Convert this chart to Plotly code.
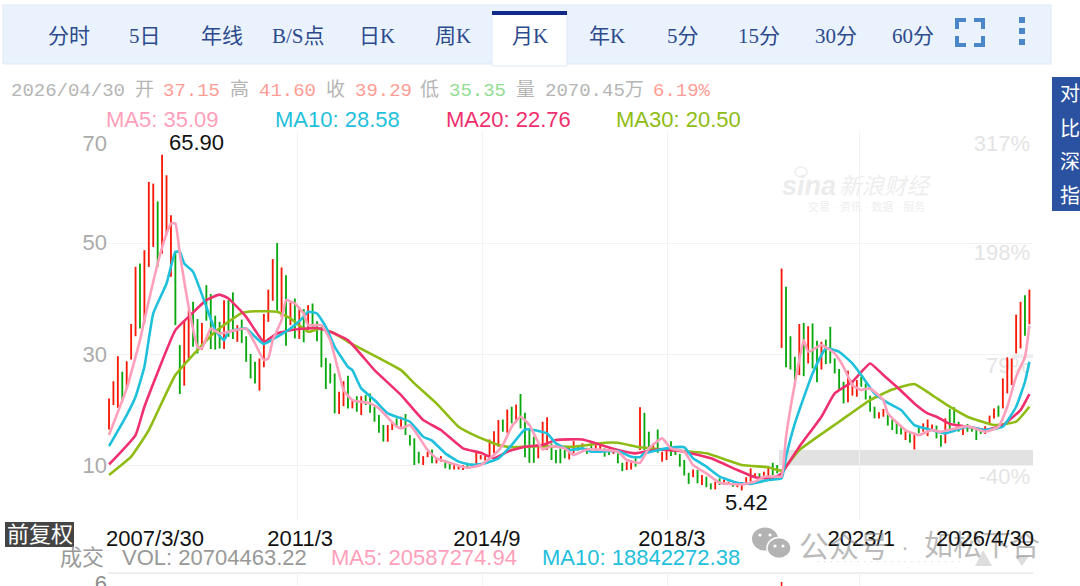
import plotly.graph_objects as go

BAR_HIGH = [22.0,25.1,29.6,26.8,28.7,35.4,45.7,46.3,48.7,61.0,60.7,57.5,65.9,62.2,55.0,48.4,31.6,36.1,37.9,39.4,
36.3,35.6,42.4,40.8,36.9,35.8,39.7,39.7,41.1,35.2,36.2,33.2,30.0,28.6,29.2,37.2,41.6,47.1,50.0,45.6,
44.2,39.3,40.0,38.4,38.1,38.8,39.1,35.9,34.9,29.3,28.3,26.5,23.2,25.1,26.1,21.8,22.4,22.4,22.6,22.9,
20.5,19.0,17.2,17.2,17.8,18.4,18.7,19.2,15.4,14.8,12.4,11.6,12.4,12.8,11.2,11.6,10.9,10.3,10.0,9.8,
10.0,10.0,10.3,12.2,11.8,11.6,14.6,16.1,18.1,18.2,20.0,20.5,20.9,22.8,19.4,16.6,15.1,13.3,17.8,18.6,
13.9,12.7,13.0,12.7,13.2,14.3,13.6,13.9,13.1,13.9,13.8,13.6,13.0,12.8,12.4,12.1,10.4,10.6,10.9,11.5,
20.4,19.4,16.0,13.9,16.4,12.4,13.0,14.3,13.0,12.0,10.9,8.6,9.2,9.1,8.2,7.9,6.7,7.0,7.6,7.4,
7.0,6.7,6.4,6.4,7.8,9.4,8.5,8.5,8.8,9.7,10.4,10.0,45.4,42.1,33.2,29.5,35.4,35.6,35.0,35.5,
32.4,32.2,32.6,34.9,29.2,27.3,25.0,27.0,25.3,25.3,25.9,24.7,22.5,20.5,19.5,20.1,19.3,18.2,17.6,17.0,
16.1,15.7,15.8,16.9,17.5,18.2,17.3,17.1,15.4,18.4,20.1,20.4,17.8,16.8,17.4,16.7,16.3,16.4,17.0,18.9,
20.2,20.7,25.6,29.4,29.2,37.1,39.4,40.6,41.6]
BAR_LOW = [16.4,20.8,20.3,21.4,23.8,29.0,33.2,34.6,35.5,45.7,49.3,45.7,48.1,51.7,43.9,35.2,22.8,24.3,29.2,31.3,
30.1,30.7,36.0,30.9,30.8,31.0,30.9,33.1,32.7,32.2,32.0,28.6,25.6,24.7,23.4,27.6,35.8,39.6,37.8,36.7,
31.5,35.2,32.8,32.7,32.1,34.3,34.6,32.3,27.6,23.7,24.7,19.3,19.2,20.6,20.2,20.2,19.6,19.0,20.8,19.4,
17.8,15.8,14.2,14.2,16.3,16.9,16.9,15.4,13.5,10.0,10.3,10.0,11.4,10.3,10.3,10.6,9.4,9.2,9.2,9.2,
9.1,9.4,9.5,10.0,11.0,10.8,11.2,12.1,13.3,16.0,15.8,17.5,17.6,16.6,11.4,10.4,10.4,11.2,13.2,12.7,
10.9,10.3,10.3,11.2,11.0,12.1,12.6,13.0,12.0,12.7,12.4,12.4,11.5,11.8,12.0,10.3,8.9,9.1,9.2,9.7,
12.7,12.7,12.6,12.8,12.2,10.6,10.9,11.6,11.8,9.7,8.1,6.6,7.8,6.7,6.4,6.0,5.6,5.6,6.4,6.4,
6.4,6.1,6.0,5.42,6.7,7.0,7.8,7.3,7.9,8.0,8.2,8.5,31.1,27.6,27.2,24.2,26.2,26.0,28.3,27.4,
24.9,27.2,28.2,28.3,26.5,23.5,21.1,21.3,22.5,22.3,24.1,21.8,19.6,18.4,18.4,18.7,17.1,16.3,15.6,15.5,
14.5,14.0,12.8,15.7,16.0,15.2,16.2,14.8,13.3,13.9,16.3,17.5,16.0,15.4,16.0,16.0,14.5,15.6,15.6,17.2,
18.4,18.7,20.2,22.9,24.4,30.1,31.0,33.3,35.35]
BAR_UP = list("RRRGRRRGRR" "RGRRRGGRRG" "GRGGGGRGGR" "GGGGRRRRGR" "GRGRGRGGGG"
              "GGRRGRGRGG" "GGGRRGRGGG" "GRRGRRGGRR" "RGGRRRRRRG" "RGRGGGGRRR"
              "GGGGRRGRGG" "RRGGRGGRRG" "RGGRGRRGGG" "GGRGRGGRGR" "RGRRRRRGRR"
              "GGRGGGRGRG" "GRGGGGGRRR" "GGGGRRGGGG" "RGRGRRRGGR" "GGGRGGGGRR"
              "RGRRRRRGR")

MA5_IDX = [0,4,7,8,11,13,14,15,16,18,20,21,23,25,27,31,33,35,36,37,39,40,42,44,45,48,50,52,53,55,59,61,65,66,68,70,72,74,77,81,84,87,89,91,93,95,98,100,103,105,108,112,115,117,120,122,125,127,130,132,135,138,143,146,148,151,152,153,155,157,158,161,164,166,168,170,172,175,176,180,183,186,188,194,198,201,203,205,207,208]
MA5_VAL = [15.4,23.8,32.5,36.1,46.3,51.7,53.5,53.5,48.1,38.5,31.3,31.0,34.6,33.7,34.0,34.6,31.9,28.9,29.2,32.5,36.1,39.7,39.1,37.3,35.2,35.2,32.5,26.5,23.5,21.7,21.1,20.2,16.9,16.6,17.2,15.1,12.7,11.2,10.4,9.5,10.0,11.8,13.6,16.9,18.7,17.2,12.8,13.4,13.0,11.8,12.8,12.7,12.4,10.9,10.4,13.0,14.8,13.0,12.4,10.0,8.5,6.8,6.5,7.0,7.9,7.9,7.9,15.1,24.7,32.5,30.4,31.6,30.1,27.7,24.4,23.5,23.8,21.7,19.3,16.3,15.4,16.3,16.0,17.0,16.0,16.9,20.5,25.9,29.5,35.09]
MA10_IDX = [0,4,6,8,10,13,15,16,17,19,22,24,26,27,31,33,35,38,41,44,45,47,49,51,54,55,57,60,63,68,71,73,76,79,82,85,88,91,94,96,99,101,104,107,109,115,118,120,121,126,130,132,135,138,142,145,149,152,153,155,159,162,165,168,170,173,176,179,182,186,189,194,198,202,205,207,208]
MA10_VAL = [13.4,19.0,22.3,27.7,37.3,42.7,48.4,48.4,46.3,44.8,38.5,34.3,32.5,34.0,34.6,33.1,31.8,33.1,34.6,36.7,37.6,37.3,34.9,31.3,27.7,27.1,23.8,21.7,19.3,17.8,15.1,14.4,12.1,10.6,10.0,10.3,11.2,13.6,16.4,16.3,15.7,13.9,12.7,13.0,12.4,12.5,11.5,11.4,12.1,13.0,13.2,11.2,9.7,7.9,6.8,6.6,7.3,7.6,11.5,17.5,26.5,31.0,30.4,28.3,26.2,22.9,21.2,19.9,17.2,16.3,15.7,16.9,16.3,16.9,20.5,25.0,28.58]
MA20_IDX = [0,6,8,15,18,22,25,27,31,35,38,42,47,50,54,60,66,71,75,80,84,87,90,94,98,101,107,110,115,119,124,130,136,142,146,150,152,156,161,164,168,172,175,178,182,185,187,190,194,198,202,206,208]
MA20_VAL = [10.1,15.4,20.5,34.3,36.7,39.7,40.7,40.0,36.7,32.2,33.7,34.4,34.7,34.0,32.5,27.1,22.6,18.1,16.3,13.0,12.2,11.2,12.4,13.3,13.6,14.5,14.6,13.9,12.7,12.1,12.8,12.4,11.2,9.1,7.8,7.6,8.5,13.3,18.7,22.9,25.0,28.3,26.2,24.1,21.1,19.3,18.7,17.4,16.9,16.3,17.2,19.9,22.76]
MA30_IDX = [0,5,9,15,20,24,30,33,38,41,45,48,51,54,66,69,74,79,83,88,91,97,105,112,115,120,127,135,143,149,152,156,165,172,177,182,186,190,194,200,205,208]
MA30_VAL = [8.2,11.5,16.3,26.2,30.7,34.0,37.4,37.7,37.6,36.4,34.0,34.6,33.7,32.2,27.1,24.7,21.1,16.9,15.2,13.6,13.2,13.4,13.3,14.0,14.0,13.2,12.7,12.1,10.0,9.6,9.0,12.7,17.8,21.7,23.6,24.6,22.6,20.5,18.7,17.2,17.8,20.5]

LEFT_TICKS = [68, 50.2, 30, 10]
LEFT_LABELS = ["70", "50", "30", "10"]
GRID_Y = [70, 50, 30, 10]
RIGHT_TICKS = [67.9, 48.3, 28.0, 8.0]
RIGHT_LABELS = ["317%", "198%", "79%", "-40%"]
GRID_X = [42.5, 84.5, 126.3, 169.7]
DATE_TICKS = [10.4, 43.2, 85.4, 127.2, 170.0]
DATE_LABELS = ["2007/3/30", "2011/3", "2014/9", "2018/3", "2023/1"]
LAST_DATE_TICK = 198.0
LAST_DATE_LABEL = "2026/4/30"
VOL_IDX = [152]
VOL_VAL = [6.1]

TABS = ["分时","5日","年线","B/S点","日K","周K","月K","年K","5分","15分","30分","60分"]
TAB_X = [69,145,222,298,377,453,530,607,683,759,836,913]
INFO = [("2026/04/30",12,"#b5b5b5"),("开",136,"#b5b5b5"),("37.15",164,"#ff9c95"),("高",231,"#b5b5b5"),
        ("41.60",260,"#ff9c95"),("收",327,"#b5b5b5"),("39.29",356,"#ff9c95"),("低",421,"#b5b5b5"),
        ("35.35",450,"#93dc93"),("量",517,"#b5b5b5"),("2070.45万",546,"#b5b5b5"),("6.19%",654,"#ff9c95")]
MA_TEXT = [("MA5: 35.09",107,"#ff9fbb"),("MA10: 28.58",276,"#1fc0dc"),("MA20: 22.76",447,"#f0306e"),("MA30: 20.50",617,"#8fbc14")]
VOL_TEXT = [("成交",61,"#999999"),("VOL: 20704463.22",123,"#999999"),("MA5: 20587274.94",332,"#ff9fbb"),("MA10: 18842272.38",543,"#1fc0dc")]
SIDE = [("对",94),("比",129),("深",162),("指",196)]

W, H = 1080, 586
SANS = "Liberation Sans, Noto Sans CJK SC"
MONO = "Liberation Mono, Noto Sans CJK SC"
SERIF = "Liberation Serif, Noto Sans CJK SC"
RED, GREEN = "#f71a08", "#0aa80f"
X0, X1 = 108, 1033
step = 4.425
xrange_ = [(X0 - 109) / step, (X1 - 109) / step]
y_bottom = 521; y_top = 132
yrange_ = [10 - (y_bottom - 465) / 5.55, 10 + (465 - y_top) / 5.55]

def px(x): return x / W
def py(y): return 1 - y / H

fig = go.Figure()
# base trace carries the percent axis, which sits under the price marks
fig.add_trace(go.Scatter(x=[0], y=[10], xaxis="x", yaxis="y", mode="markers", marker=dict(opacity=0), hoverinfo="skip"))
for flag, col in (("R", RED), ("G", GREEN)):
    ii = [i for i, f in enumerate(BAR_UP) if f == flag]
    fig.add_trace(go.Bar(x=ii, y=[BAR_HIGH[i] - BAR_LOW[i] for i in ii], base=[BAR_LOW[i] for i in ii],
                         width=0.42, marker=dict(color=col, line=dict(width=0)), xaxis="x", yaxis="y3", hoverinfo="skip"))
for idx, val, col in ((MA30_IDX, MA30_VAL, "#8fbc14"), (MA20_IDX, MA20_VAL, "#f0306e"),
                      (MA10_IDX, MA10_VAL, "#1fc0dc"), (MA5_IDX, MA5_VAL, "#ff9fbb")):
    fig.add_trace(go.Scatter(x=idx, y=val, mode="lines", line=dict(color=col, width=2.6, shape="spline", smoothing=0.4),
                             xaxis="x", yaxis="y3", hoverinfo="skip"))
fig.add_trace(go.Bar(x=VOL_IDX, y=[v - 5.7 for v in VOL_VAL], base=[5.7] * len(VOL_IDX), width=0.35,
                     marker=dict(color=RED, line=dict(width=0)), xaxis="x2", yaxis="y2", hoverinfo="skip"))

GRID = "#f2f2f2"
fig.update_layout(
    width=W, height=H, margin=dict(l=0, r=0, t=0, b=0, autoexpand=False), paper_bgcolor="white", plot_bgcolor="rgba(0,0,0,0)",
    showlegend=False, hovermode=False, barmode="overlay", dragmode=False,
    font=dict(family=SANS),
    xaxis=dict(domain=[px(X0), px(X1)], range=xrange_, anchor="y", showgrid=False, zeroline=False, showline=False,
               tickmode="array", tickvals=DATE_TICKS, ticktext=DATE_LABELS, ticks="", ticklabelstandoff=2, automargin=False,
               tickfont=dict(size=22, color="#111111", family=SANS), tickangle=0,
               minor=dict(tickmode="array", tickvals=GRID_X, showgrid=True, gridcolor=GRID, gridwidth=1, ticks="")),
    yaxis=dict(domain=[py(y_bottom), py(y_top)], range=yrange_, anchor="x", side="right", showgrid=False, zeroline=False,
               tickmode="array", tickvals=RIGHT_TICKS, ticktext=RIGHT_LABELS, ticks="", ticklabelposition="inside", automargin=False,
               ticklabeloverflow="allow", layer="below traces", tickfont=dict(size=22, color="#e4e4e4", family=SANS)),
    yaxis3=dict(domain=[py(y_bottom), py(y_top)], range=yrange_, overlaying="y", anchor="x", side="left", showgrid=False,
                zeroline=False, tickmode="array", tickvals=LEFT_TICKS, ticktext=LEFT_LABELS, ticks="", automargin=False,
                tickfont=dict(size=22, color="#ababab", family=SANS),
                minor=dict(tickmode="array", tickvals=GRID_Y, showgrid=True, gridcolor=GRID, gridwidth=1, ticks="")),
    xaxis2=dict(domain=[px(X0), px(X1)], range=xrange_, anchor="y2", showticklabels=False, zeroline=False, ticks="", automargin=False,
                tickmode="array", tickvals=GRID_X, showgrid=True, gridcolor=GRID),
    yaxis2=dict(domain=[0, 13 / H], range=[5.7, 7], anchor="x2", tickmode="array", tickvals=[6], ticktext=["6"],
                showgrid=False, zeroline=False, ticks="", ticklabeloverflow="allow", automargin=False,
                tickfont=dict(size=22, color="#8c8c8c", family=SANS)),
)

shapes = []
def rect(x0, y0, x1, y1, fill, line=None, layer="below"):
    shapes.append(dict(type="rect", xref="paper", yref="paper", x0=px(x0), x1=px(x1), y0=py(y1), y1=py(y0),
                       fillcolor=fill, line=dict(width=1 if line else 0, color=line or fill), layer=layer))
def hline(x0, x1, y, col, w=1):
    shapes.append(dict(type="line", xref="paper", yref="paper", x0=px(x0), x1=px(x1), y0=py(y), y1=py(y),
                       line=dict(color=col, width=w), layer="below"))
# tab strip
rect(3, 5, 1051, 64, "#eaf2fd", "#dfe8f6")
rect(492, 12, 567, 66, "white", "#dfe8f6")
rect(492, 11, 567, 15, "#0f2a8a")
# fullscreen icon
IC = "#4a86c8"
for (x, y, w, h) in [(955,18,11,4),(955,18,4,11),(974,18,11,4),(981,18,4,11),(955,43,11,4),(955,36,4,11),(974,43,11,4),(981,36,4,11)]:
    rect(x, y, x + w, y + h, IC)
for y in (20, 31, 42):
    rect(1019, y - 3, 1025, y + 3, IC)
# side box
rect(1052, 77, 1080, 211, "#2a52a0")
# grey band on the price pane, in data coordinates
shapes.append(dict(type="rect", xref="x", yref="y", x0=151.4, x1=xrange_[1], y0=9.8, y1=12.7, fillcolor="#e2e2e2",
                   line=dict(width=0), layer="below"))
rect(1012, 354, 1033, 358, "#ededed")
hline(1006, 1033, 405, "#eeeeee")
hline(X0, X1, 573, "#e8e8e8", 1.5)
# volume label box
rect(5, 522, 74, 547, "#444444")
# wechat bubbles
WX = "#b3b3b3"
def ell(cx, cy, rx, ry, fill, line=None):
    shapes.append(dict(type="circle", xref="paper", yref="paper", x0=px(cx-rx), x1=px(cx+rx), y0=py(cy+ry), y1=py(cy-ry),
                       fillcolor=fill, line=dict(width=1.5 if line else 0, color=line or fill), layer="above"))
ell(765, 539, 13, 11.5, WX)
ell(779, 548, 12, 10.5, WX, "white")
for cx, cy in [(760,535),(770,535),(775,546),(783,546)]:
    ell(cx, cy, 1.6, 1.6, "white")
# screenshot overlays: faint triangles
def tri(pts, col):
    d = "M " + " L ".join(f"{px(x)} {py(y)}" for x, y in pts) + " Z"
    shapes.append(dict(type="path", xref="paper", yref="paper", path=d, fillcolor=col, line=dict(width=0), layer="above"))
tri([(975,566),(992,566),(983,550)], "rgba(180,180,180,0.45)")
tri([(1015,556),(1029,556),(1022,566)], "rgba(180,180,180,0.45)")
# sina eye
ell(801, 172, 6, 5, "rgba(0,0,0,0)", "#eeeeee")
fig.update_layout(shapes=shapes)

ann = []
def text(s, x, y, size, col, fam=SANS, anchor="left"):
    ann.append(dict(text=s, xref="paper", yref="paper", x=px(x - (1.5 if anchor == "left" else 0)), y=py(y), xanchor=anchor,
                    yanchor="middle", showarrow=False,
                    font=dict(size=size, color=col, family=fam), borderpad=0, borderwidth=0))
for s, x in zip(TABS, TAB_X):
    text(s, x, 36, 21, "#2c4a8c", SERIF, "center")
for s, x, c in INFO:
    text(s, x, 91, 19, c, MONO)
for s, x, c in MA_TEXT:
    text(s, x, 120, 22, c)
for s, x, c in VOL_TEXT:
    text(s, x, 557.5, 22, c)
for s, y in SIDE:
    text(s, 1070, y, 20, "white", SANS, "center")
text("前复权", 39.5, 534, 22, "white", SANS, "center")
# sina watermark
text("<b><i>sina</i></b>", 783, 186, 27, "#ececec")
text("<i>新浪财经</i>", 840, 187, 22.5, "#eeeeee")
text("交易 · 资讯 · 数据 · 服务", 866, 206, 11, "#eeeeee", SANS, "center")
# wechat watermark
WMK = "rgba(120,120,120,0.5)"
text("公众号", 800, 546, 30, WMK)
text("·", 905, 546, 24, WMK, SANS, "center")
text("如松下合", 925, 546, 29, WMK)
text("· · · · · · · · · · · · · · · · · · · · · ·", 888, 561, 11, "#dcdcdc", SANS, "center")
# extreme labels, tied to the data
ann.append(dict(text="65.90", xref="x", yref="y3", x=BAR_HIGH.index(max(BAR_HIGH)), y=max(BAR_HIGH), xshift=34, yshift=12,
                showarrow=False, font=dict(size=22, color="#111111")))
ann.append(dict(text="5.42", xref="x", yref="y3", x=BAR_LOW.index(min(BAR_LOW)), y=min(BAR_LOW), xshift=5, yshift=-12,
                showarrow=False, font=dict(size=22, color="#111111")))
ann.append(dict(text=LAST_DATE_LABEL, xref="x", yref="paper", x=LAST_DATE_TICK, y=py(538), yanchor="middle",
                showarrow=False, font=dict(size=22, color="#111111")))
fig.update_layout(annotations=ann)

fig.write_html("out.html", config=dict(displayModeBar=False, staticPlot=True),
               post_script="document.body.style.margin='0';document.body.style.overflow='hidden';")
